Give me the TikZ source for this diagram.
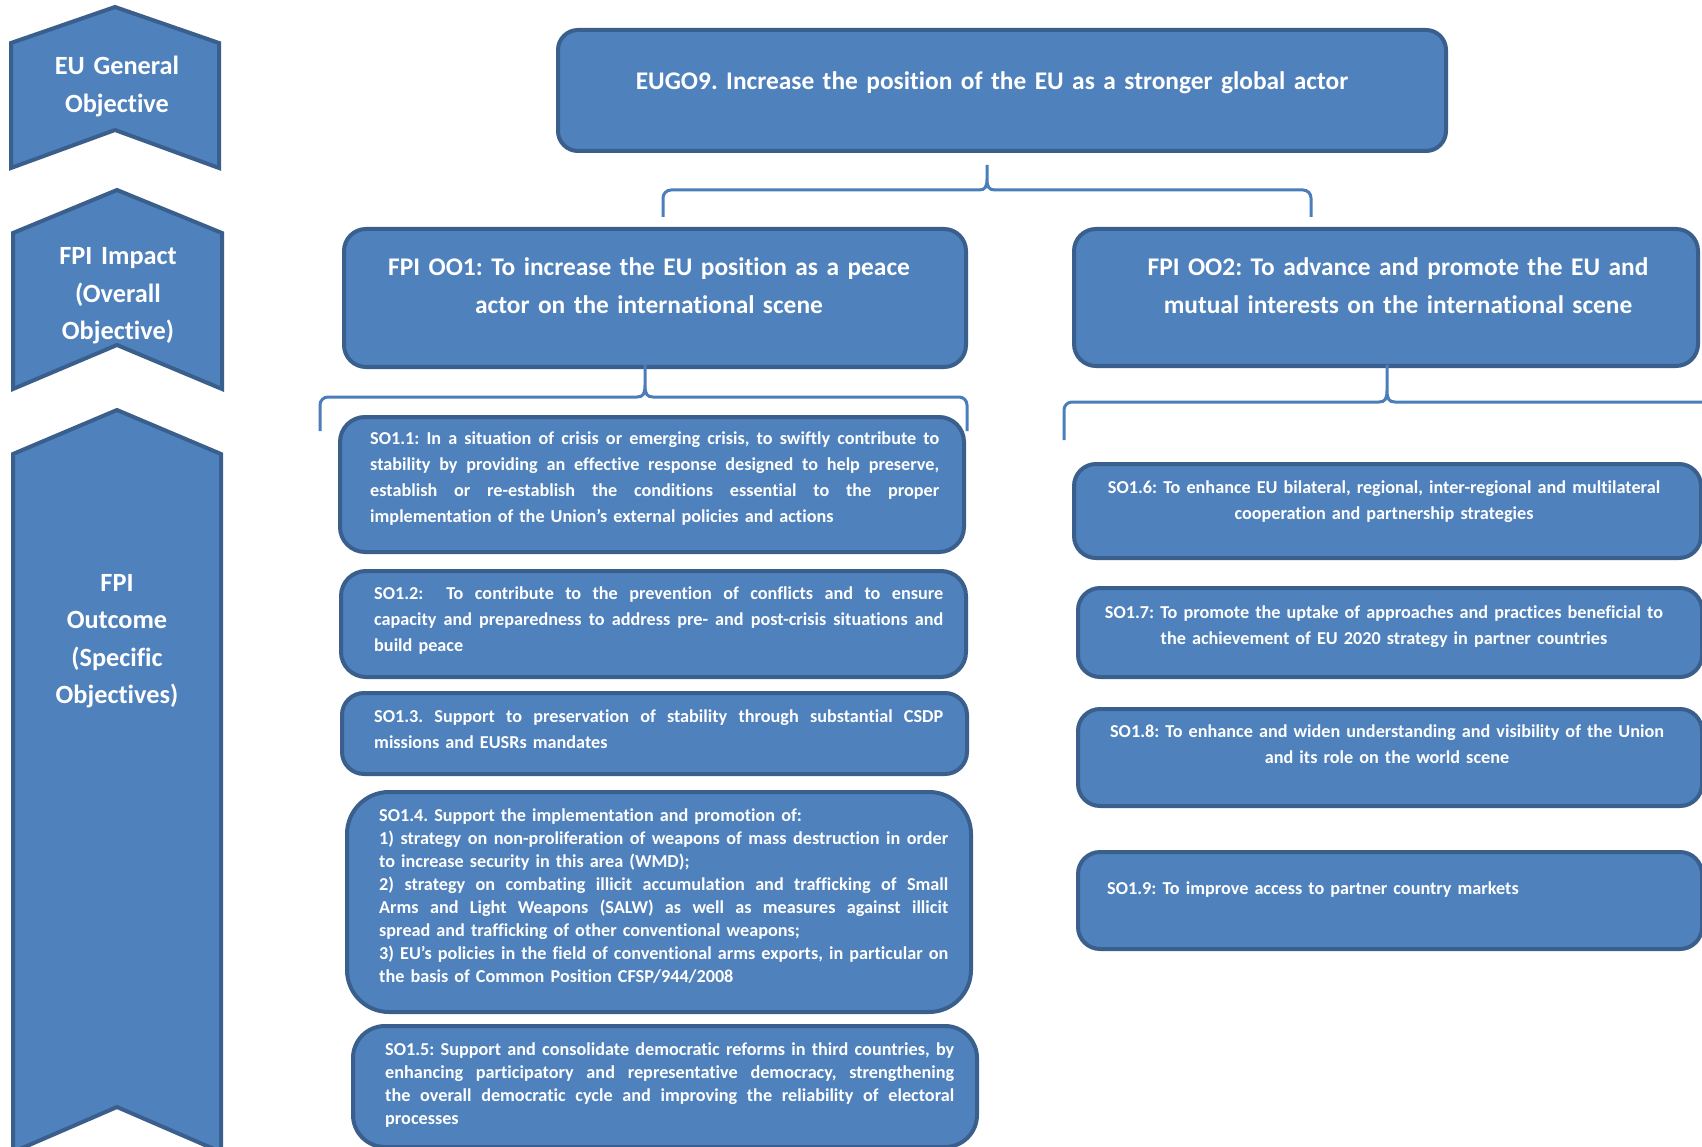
\documentclass[tikz,border=0pt]{standalone}
\usepackage{fontspec}
\setmainfont{Carlito}[Ligatures=NoCommon]
\definecolor{boxfill}{HTML}{4F81BD}
\definecolor{boxline}{HTML}{3A5F8C}
\definecolor{bracecol}{HTML}{4A7EBA}
\newcommand\jl[1]{\leavevmode\hbox to 569pt{\spaceskip=0.226em plus 0.5em minus 0.1em\relax #1}}
\frenchspacing
\tikzset{
  objbox/.style={draw=boxline, fill=boxfill, line width=4pt, inner sep=0pt, anchor=north west},
  chev/.style={draw=boxline, fill=boxfill, line width=4pt, line join=miter},
  bigtext/.style={text=white, font=\frenchspacing\fontsize{25.4}{37.5}\selectfont\bfseries, inner sep=0pt, align=center, text width=880pt, anchor=base},
  chevtext/.style={text=white, font=\frenchspacing\fontsize{26.3}{37.5}\selectfont\bfseries, inner sep=0pt, align=center, text width=200pt, anchor=base},
  smalltext/.style={text=white, font=\frenchspacing\fontsize{18.2}{26}\selectfont\bfseries, inner sep=0pt, align=left, text width=569pt, anchor=base west},
  tighttext/.style={smalltext, font=\frenchspacing\fontsize{18.2}{23}\selectfont\bfseries},
  ctrtext/.style={text=white, font=\frenchspacing\fontsize{18.2}{26.5}\selectfont\bfseries, inner sep=0pt, align=center, text width=620pt, anchor=base},
  brace/.style={draw=bracecol, line width=3pt}
}
\begin{document}
\begin{tikzpicture}[x=1pt,y=-1pt]
\useasboundingbox (0,0) rectangle (1702,1147);
\clip (0,0) rectangle (1702,1147);

% chevrons
\draw[chev] (11,43) -- (115,7) -- (219,43) -- (219,168) -- (115,130) -- (11,168) -- cycle;
\draw[chev] (13,233) -- (117,190) -- (222,233) -- (222,389) -- (117,345) -- (13,389) -- cycle;
\draw[chev] (13,454) -- (117,410) -- (221,454) -- (221,1152) -- (117,1107) -- (13,1152) -- cycle;
\node[chevtext] (c1) at (117,75) {EU General\\Objective};
\node[chevtext] (c2) at (118,265) {FPI Impact\\(Overall\\Objective)};
\node[chevtext] (c3) at (117,591) {FPI\\Outcome\\(Specific\\Objectives)};

% top box
\node[objbox, rounded corners=20pt, minimum width=888pt, minimum height=121pt] (eugo) at (556,28) {};
\node[bigtext] (eugot) at (992,90) {EUGO9. Increase the position of the EU as a stronger global actor};

% overall objectives
\node[objbox, rounded corners=22pt, minimum width=622pt, minimum height=138pt] (oo1) at (342,227) {};
\node[bigtext] (oo1t) at (649,276) {FPI OO1: To increase the EU position as a peace\\actor on the international scene};
\node[objbox, rounded corners=22pt, minimum width=624pt, minimum height=137pt] (oo2) at (1072,227) {};
\node[bigtext] (oo2t) at (1398,276) {FPI OO2: To advance and promote the EU and\\mutual interests on the international scene};

% braces
\coordinate (b0l) at (663,217); \coordinate (b0r) at (1311,217); \coordinate (b0t) at (987,165);
\draw[brace] (b0l) -- (663,198) to[out=90,in=180] (671,190) -- (979,190)
  .. controls (985,190) and (987,187) .. (987,179) -- (b0t) -- (987,179)
  .. controls (987,187) and (989,190) .. (995,190) -- (1303,190) to[out=0,in=90] (1311,198) -- (b0r);
\coordinate (b1l) at (320,431); \coordinate (b1r) at (967,431); \coordinate (b1t) at (645,365);
\draw[brace] (b1l) -- (320,405) to[out=90,in=180] (328,397) -- (637,397)
  .. controls (643,397) and (645,394) .. (645,385) -- (b1t) -- (645,385)
  .. controls (645,394) and (647,397) .. (653,397) -- (959,397) to[out=0,in=90] (967,405) -- (b1r);
\coordinate (b2l) at (1064,440); \coordinate (b2r) at (1710,402); \coordinate (b2t) at (1387,365);
\draw[brace] (b2l) -- (1064,410) to[out=90,in=180] (1072,402) -- (1379,402)
  .. controls (1385,402) and (1387,399) .. (1387,390) -- (b2t) -- (1387,390)
  .. controls (1387,399) and (1389,402) .. (1395,402) -- (b2r);

% left specific objectives
\node[objbox, rounded corners=25pt, minimum width=624pt, minimum height=135pt] (so11) at (338,415) {};
\node[smalltext] (so11t) at (370,444) {\jl{SO1.1: In a situation of crisis or emerging crisis, to swiftly contribute to}\\
\jl{stability by providing an effective response designed to help preserve,}\\
\jl{establish or re-establish the conditions essential to the proper}\\
implementation of the Union's external policies and actions};

\node[objbox, rounded corners=25pt, minimum width=625pt, minimum height=106pt] (so12) at (339,569) {};
\node[smalltext] (so12t) at (374,599) {\jl{SO1.2:\ \ To contribute to the prevention of conflicts and to ensure}\\
\jl{capacity and preparedness to address pre- and post-crisis situations and}\\
build peace};

\node[objbox, rounded corners=22pt, minimum width=625pt, minimum height=81pt] (so13) at (340,691) {};
\node[smalltext] (so13t) at (374,722) {\jl{SO1.3. Support to preservation of stability through substantial CSDP}\\
missions and EUSRs mandates};

\node[objbox, rounded corners=42pt, minimum width=624pt, minimum height=220pt] (so14) at (345,790) {};
\node[tighttext] (so14t) at (379,821) {SO1.4. Support the implementation and promotion of:\\
\jl{1) strategy on non-proliferation of weapons of mass destruction in order}\\
to increase security in this area (WMD);\\
\jl{2) strategy on combating illicit accumulation and trafficking of Small}\\
\jl{Arms and Light Weapons (SALW) as well as measures against illicit}\\
spread and trafficking of other conventional weapons;\\
\jl{3) EU's policies in the field of conventional arms exports, in particular on}\\
the basis of Common Position CFSP/944/2008};

\node[objbox, rounded corners=32pt, minimum width=624pt, minimum height=121pt] (so15) at (351,1024) {};
\node[tighttext] (so15t) at (385,1055) {\jl{SO1.5: Support and consolidate democratic reforms in third countries, by}\\
\jl{enhancing participatory and representative democracy, strengthening}\\
\jl{the overall democratic cycle and improving the reliability of electoral}\\
processes};

% right specific objectives
\node[objbox, rounded corners=22pt, minimum width=627pt, minimum height=94pt] (so16) at (1072,462) {};
\node[ctrtext] (so16t) at (1384,493) {SO1.6: To enhance EU bilateral, regional, inter-regional and multilateral\\cooperation and partnership strategies};

\node[objbox, rounded corners=22pt, minimum width=624pt, minimum height=89pt] (so17) at (1076,586) {};
\node[ctrtext] (so17t) at (1384,618) {SO1.7: To promote the uptake of approaches and practices beneficial to\\the achievement of EU 2020 strategy in partner countries};

\node[objbox, rounded corners=22pt, minimum width=624pt, minimum height=97pt] (so18) at (1076,707) {};
\node[ctrtext] (so18t) at (1387,737) {SO1.8: To enhance and widen understanding and visibility of the Union\\and its role on the world scene};

\node[objbox, rounded corners=22pt, minimum width=624pt, minimum height=97pt] (so19) at (1076,850) {};
\node[smalltext] (so19t) at (1107,894) {SO1.9: To improve access to partner country markets};
\end{tikzpicture}
\end{document}
